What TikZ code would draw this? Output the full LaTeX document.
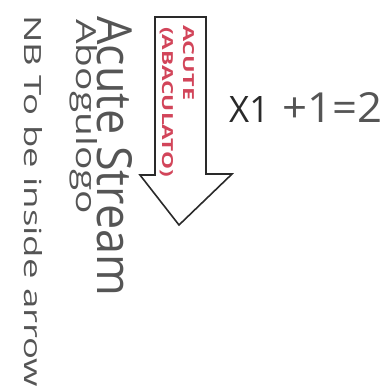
\documentclass[tikz,border=0pt]{standalone}
\usepackage{fontspec}
\setmainfont{Open Sans}
\usepackage{graphicx}
\definecolor{pencil}{HTML}{555555}
\definecolor{redink}{HTML}{D2455A}
\definecolor{inkdark}{HTML}{2A2A2A}
\begin{document}
\begin{tikzpicture}[x=1pt,y=-1pt,
  hand/.style={inner sep=0pt, rotate=-90, anchor=base west, text=pencil},
  redtxt/.style={inner sep=0pt, rotate=-90, anchor=base west, text=redink},
  arrowline/.style={draw=inkdark, line width=1.6pt, line join=miter, fill=white}]
\useasboundingbox (0,0) rectangle (385,390);
% arrow
\draw[arrowline] (155,17) -- (206,17) -- (206,174) -- (232,174) -- (179,225) -- (140,175) -- (155,175) -- cycle;
% red text inside arrow
\node[redtxt] (acute) at (183,25) {\resizebox{75pt}{11pt}{\bfseries ACUTE}};
\node[redtxt] (abac) at (162,27) {\resizebox{150pt}{11pt}{\bfseries (ABACULATO)}};
% left handwriting
\node[hand] (stream) at (97,16) {\resizebox{280pt}{35pt}{Acute Stream}};
\node[hand] (abog) at (76,19) {\resizebox{195pt}{21pt}{Abogulogo}};
\node[hand] (nb) at (24,15) {\resizebox{372pt}{18pt}{NB To be inside arrow}};
% equation
\node[inner sep=0pt, anchor=base west, text=inkdark] (x1) at (229,123) {\resizebox{40pt}{26pt}{X1}};
\node[inner sep=0pt, anchor=base west, text=pencil] (eq) at (282,123) {\resizebox{100pt}{30pt}{+1=2}};
\end{tikzpicture}
\end{document}
